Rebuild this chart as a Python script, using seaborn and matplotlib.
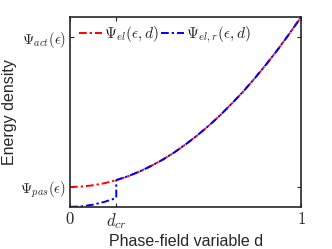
import pandas as pd
import matplotlib
matplotlib.use('Agg')
import matplotlib.pyplot as plt
import seaborn as sns

# phase-field variable d
d_values = [0.0, 0.05, 0.1, 0.15, 0.2, 0.25, 0.3, 0.35, 0.4, 0.45, 0.5,
            0.55, 0.6, 0.65, 0.7, 0.75, 0.8, 0.85, 0.9, 0.95, 1.0]
# Psi_el(eps, d)
psi_el = [0.105, 0.107, 0.114, 0.125, 0.141, 0.161, 0.186, 0.215, 0.248, 0.286, 0.329,
          0.376, 0.427, 0.483, 0.544, 0.608, 0.678, 0.752, 0.830, 0.913, 1.0]
# Psi_el,r(eps, d) - jumps at d_cr
d_values_r = [0.0, 0.05, 0.1, 0.15, 0.2, 0.2, 0.25, 0.3, 0.35, 0.4, 0.45, 0.5,
              0.55, 0.6, 0.65, 0.7, 0.75, 0.8, 0.85, 0.9, 0.95, 1.0]
psi_el_r = [0.0, 0.003, 0.012, 0.027, 0.047, 0.141, 0.161, 0.186, 0.215, 0.248, 0.286, 0.329,
            0.376, 0.427, 0.483, 0.544, 0.608, 0.678, 0.752, 0.830, 0.913, 1.0]

x_ticks = [0, 0.2, 1]
x_tick_labels = ['$0$', '$d_{cr}$', '$1$']
y_ticks = [0.105, 0.895]
y_tick_labels = [r'$\Psi_{pas}(\epsilon)$', r'$\Psi_{act}(\epsilon)$']


def main():
    sns.set_style('ticks')
    plt.rcParams['font.family'] = ['Liberation Sans', 'DejaVu Sans']
    plt.rcParams['mathtext.fontset'] = 'cm'

    fig = plt.figure(figsize=(3.32, 2.49), dpi=100)
    ax = fig.add_axes([0.211, 0.169, 0.696, 0.763])

    dash = (0, (4, 1.5, 1.2, 1.5))
    el = pd.DataFrame({'d': d_values, 'psi': psi_el})
    elr = pd.DataFrame({'d': d_values_r, 'psi': psi_el_r})
    sns.lineplot(data=el, x='d', y='psi', ax=ax, color='red', linestyle=dash,
                 linewidth=1.4, sort=False, estimator=None,
                 label=r'$\Psi_{el}(\epsilon,d)$')
    sns.lineplot(data=elr, x='d', y='psi', ax=ax, color='blue', linestyle=dash,
                 linewidth=1.4, sort=False, estimator=None,
                 label=r'$\Psi_{el,r}(\epsilon,d)$')

    ax.set_xlim(0, 1)
    ax.set_ylim(0, 1)
    ax.set_xticks(x_ticks)
    ax.set_xticklabels(x_tick_labels, fontsize=12)
    ax.set_yticks(y_ticks)
    ax.set_yticklabels(y_tick_labels, fontsize=10.5)
    ax.tick_params(direction='in', length=3, width=0.8, top=True, right=True,
                   colors='#262626', pad=3)
    for s in ax.spines.values():
        s.set_linewidth(1.2)
        s.set_color('#262626')

    ax.set_xlabel('Phase-field variable d', fontsize=11.5, labelpad=2)
    ax.set_ylabel('Energy density', fontsize=11.5, labelpad=2)

    ax.legend(loc='upper left', ncol=2, frameon=False, fontsize=11,
              handlelength=1.5, handletextpad=0.15, columnspacing=0.1,
              borderaxespad=0.2, bbox_to_anchor=(0.0, 1.01))

    plt.savefig('out.png', dpi=100)


if __name__ == "__main__":
    main()
